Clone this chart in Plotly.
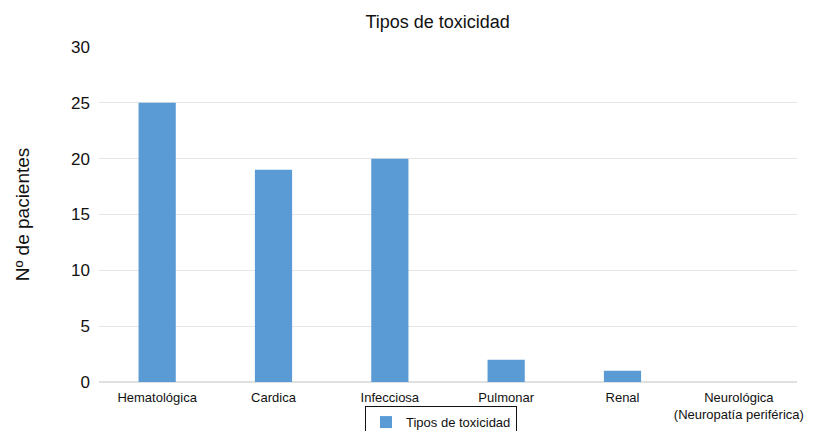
import plotly.graph_objects as go

categorias = ["Hematológica", "Cardica", "Infecciosa", "Pulmonar", "Renal",
              "Neurológica<br>(Neuropatía periférica)"]
pacientes = [25, 19, 20, 2, 1, 0]
serie = "Tipos de toxicidad"
y_ticks = [0, 5, 10, 15, 20, 25, 30]

FONT = "Liberation Sans, Arial, Helvetica, sans-serif"

fig = go.Figure(go.Bar(
    x=categorias, y=pacientes, name=serie,
    marker=dict(color="#5B9BD5", line=dict(width=0)),
    width=0.32, showlegend=True,
))

fig.update_layout(
    width=815, height=431,
    margin=dict(l=99, r=18, t=47, b=49, autoexpand=False),
    paper_bgcolor="white", plot_bgcolor="white",
    font=dict(family=FONT, color="#111111", size=13),
    title=dict(text="Tipos de toxicidad", x=0.537, xanchor="center",
               y=0.95, yanchor="middle", font=dict(size=18, color="#111111")),
    showlegend=True,
    legend=dict(orientation="h", x=0.49, xanchor="center", y=-0.072, yanchor="top",
                bordercolor="#111111", borderwidth=1, font=dict(size=13),
                itemwidth=30, tracegroupgap=0),
    bargap=0.68,
)

fig.update_xaxes(showgrid=False, showline=False, ticks="", tickfont=dict(size=13),
                 ticklabelstandoff=6, automargin=False)
fig.update_yaxes(range=[0, 30], tickvals=y_ticks, showgrid=True, gridcolor="#e6e6e6",
                 gridwidth=1, zeroline=True, zerolinecolor="#e0e0e0", ticks="",
                 tickfont=dict(size=17), ticklabelstandoff=8, automargin=False,
                 title=dict(text="Nº de pacientes", font=dict(size=19), standoff=36))

fig.write_html("out.html")
